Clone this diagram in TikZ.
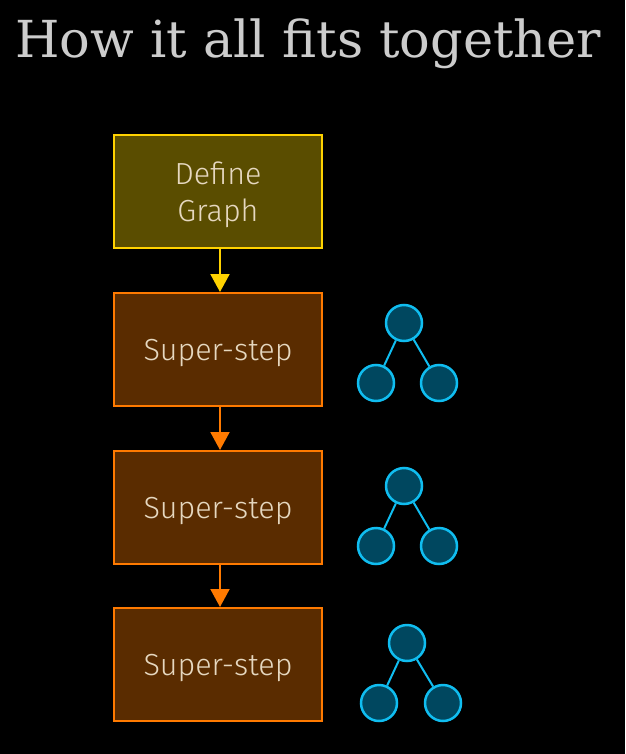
\documentclass[tikz,border=0pt]{standalone}
\usepackage{fontspec}
\setmainfont{Fira Sans Light}
\newfontfamily\titlefont{DejaVu Serif}
\usetikzlibrary{arrows.meta}

\definecolor{gold}{HTML}{FFD200}
\definecolor{olive}{HTML}{5A4D00}
\definecolor{rust}{HTML}{FF7A00}
\definecolor{brown}{HTML}{5A2C00}
\definecolor{sky}{HTML}{10BDF0}
\definecolor{deep}{HTML}{00475F}
\definecolor{beige}{HTML}{E6D8C0}

\begin{document}
\begin{tikzpicture}[x=1pt,y=-1pt]
            \tikzstyle{every node}+=[inner sep=0pt]
            \tikzstyle{stage}=[draw, line width=2pt, minimum width=208pt, minimum height=113pt,
                text=beige, align=center, text depth=0pt, font=\fontsize{30.5}{37}\selectfont]
            \tikzstyle{setup}=[stage, draw=gold, fill=olive]
            \tikzstyle{superstep}=[stage, draw=rust, fill=brown]
            \tikzstyle{vertex}=[circle, draw=sky, fill=deep, line width=2.5pt, minimum size=36pt]
            \tikzstyle{edge}=[sky, line width=2pt]
            \tikzstyle{flow}=[line width=2pt, -{Triangle[length=18pt,width=19pt]}]
            \fill [black] (0,0) rectangle (625,754);
            \useasboundingbox (0,0) rectangle (625,754);
            \node (title) [anchor=base west, text=black!20, font=\titlefont\fontsize{51}{51}\selectfont] at (15,58) {How it all fits together};
            \node (define) [setup] at (218,191.5) {Define\\Graph};
            \node (step1) [superstep] at (218,349.5) {Super-step};
            \node (step2) [superstep] at (218,507.5) {Super-step};
            \node (step3) [superstep] at (218,664.5) {Super-step};
            \draw [flow, gold] ([xshift=2pt]define.south) -- ([xshift=2pt]step1.north);
            \draw [flow, rust] ([xshift=2pt]step1.south) -- ([xshift=2pt]step2.north);
            \draw [flow, rust] ([xshift=2pt]step2.south) -- ([xshift=2pt]step3.north);
            % small trees beside each super-step
            \node (root1) [vertex] at (404,323) {};
            \node (left1) [vertex] at (376,383) {};
            \node (right1) [vertex] at (439,383) {};
            \node (root2) [vertex] at (404,486) {};
            \node (left2) [vertex] at (376,546) {};
            \node (right2) [vertex] at (439,546) {};
            \node (root3) [vertex] at (407,643) {};
            \node (left3) [vertex] at (379,703) {};
            \node (right3) [vertex] at (443,703) {};
            \draw [edge] (root1) -- (left1);
            \draw [edge] (root1) -- (right1);
            \draw [edge] (root2) -- (left2);
            \draw [edge] (root2) -- (right2);
            \draw [edge] (root3) -- (left3);
            \draw [edge] (root3) -- (right3);
\end{tikzpicture}
\end{document}
